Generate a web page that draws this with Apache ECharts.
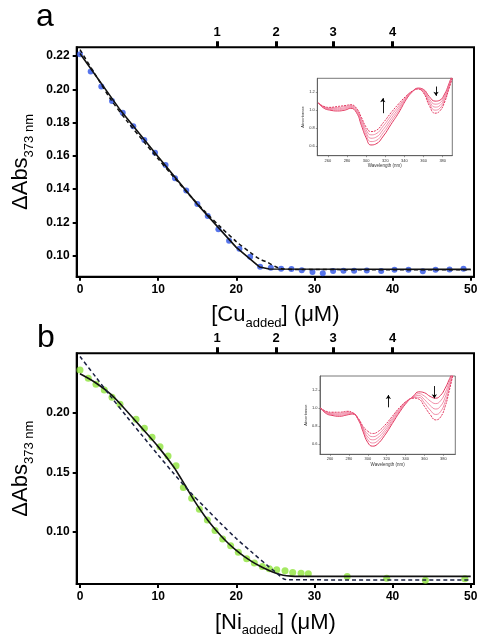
<!DOCTYPE html>
<html><head><meta charset="utf-8">
<script src="https://cdn.jsdelivr.net/npm/echarts@6/dist/echarts.min.js"></script>
<style>html,body{margin:0;padding:0;background:#fff}#c{width:484px;height:642px}</style>
</head><body><div id="c"></div><script>
// ---------- Panel a: Cu titration ----------
const cuX = [0,1.37,2.73,4.10,5.47,6.82,8.23,9.60,10.95,12.16,13.6,15.02,16.35,17.71,19.08,20.40,21.77,23.05,24.42,25.74,27.06,28.38,29.75,31.07,32.39,33.72,35.08,36.70,38.54,40.25,42.04,43.87,45.50,47.29,49.08];
const cuY = [0.2210,0.2106,0.2016,0.1930,0.1859,0.1778,0.1695,0.1619,0.1545,0.1465,0.1392,0.1311,0.1238,0.1159,0.1090,0.1042,0.0994,0.0934,0.0928,0.0922,0.0920,0.0912,0.0902,0.0894,0.0908,0.0910,0.0910,0.0911,0.0908,0.0915,0.0915,0.0907,0.0916,0.0917,0.0922];
const cuFitSolidX = [0,5,10,15,20,23.0,24.2,50];
const cuFitSolidY = [0.2215,0.1885,0.1595,0.1310,0.1050,0.0932,0.0920,0.0918];
const cuFitDashX = [0,2,4,6,8,10,12,14,16,18,20,22,23,24,25,25.8,28,50];
const cuFitDashY = [0.2238,0.2085,0.1935,0.1810,0.1695,0.1582,0.1472,0.1365,0.1265,0.1172,0.1085,0.1012,0.0980,0.0960,0.0935,0.0922,0.0917,0.0916];
// ---------- Panel b: Ni titration ----------
const niX = [0,1.06,2.05,3.11,4.10,5.12,7.17,8.24,9.22,10.24,11.27,12.29,13.23,14.29,15.27,16.30,17.28,18.26,19.28,20.26,21.33,22.31,23.34,24.23,25.17,26.24,27.22,28.29,29.22,34.2,39.25,44.2,49.25];
const niY = [0.2358,0.2288,0.2238,0.2190,0.2129,0.2070,0.1945,0.1869,0.1794,0.1715,0.1637,0.1554,0.1372,0.1283,0.1191,0.1101,0.1012,0.0942,0.0884,0.0831,0.0775,0.0739,0.0710,0.0691,0.0683,0.0674,0.0660,0.0655,0.0650,0.0627,0.0612,0.0595,0.0608];
const niFitSolidX = [0,2,4,6,8,10,12,13,14,15,16,17,18,19,20,21,22,23,24,25,26,27,28,50];
const niFitSolidY = [0.2325,0.2250,0.2150,0.2012,0.1865,0.1715,0.1545,0.1440,0.1330,0.1225,0.1130,0.1045,0.0970,0.0903,0.0845,0.0795,0.0752,0.0715,0.0683,0.0656,0.0638,0.0630,0.0628,0.0628];
const niFitDashX = [0,2,4,6,8,10,12,14,16,18,20,22,24,25,26,26.6,50];
const niFitDashY = [0.2470,0.2300,0.2130,0.1965,0.1805,0.1645,0.1490,0.1340,0.1205,0.1072,0.0945,0.0830,0.0718,0.0665,0.0610,0.0599,0.0598];
// ---------- shared axes ----------
const mainTicks = [0,10,20,30,40,50];
const eqPos = [17.55,25.1,32.4,40.0];
const eqLabels = ['1','2','3','4'];
const yTicksA = [0.10,0.12,0.14,0.16,0.18,0.20,0.22];
const yTicksB = [0.10,0.15,0.20];
// ---------- insets: absorbance spectra ----------
const specWl = [250,256,262,270,278,284,290,295,300,305,310,318,326,334,342,348,354,360,366,372,377,382,386,390];
const specCu0 = [1.08,1.02,1.00,0.99,1.00,1.02,0.97,0.83,0.69,0.61,0.62,0.71,0.84,0.97,1.12,1.20,1.245,1.23,1.15,1.10,1.11,1.18,1.28,1.40];
const specCu1 = [1.08,1.025,1.007,1.003,1.013,1.03,0.982,0.853,0.72,0.648,0.657,0.748,0.873,0.995,1.13,1.203,1.243,1.22,1.125,1.066,1.08,1.158,1.265,1.39];
const specCu2 = [1.08,1.03,1.015,1.015,1.025,1.04,0.995,0.875,0.75,0.685,0.695,0.785,0.905,1.02,1.14,1.205,1.24,1.21,1.10,1.033,1.05,1.135,1.25,1.38];
const specCu3 = [1.08,1.035,1.022,1.028,1.038,1.05,1.008,0.898,0.78,0.723,0.733,0.823,0.938,1.045,1.15,1.208,1.238,1.20,1.075,0.999,1.02,1.11,1.235,1.37];
const specCu4 = [1.08,1.04,1.03,1.04,1.05,1.06,1.02,0.92,0.81,0.76,0.77,0.86,0.97,1.07,1.16,1.21,1.235,1.19,1.05,0.965,0.99,1.09,1.22,1.36];
const specNi0 = [1.00,0.94,0.92,0.91,0.925,0.935,0.87,0.74,0.62,0.58,0.60,0.70,0.83,0.96,1.07,1.13,1.18,1.17,1.13,1.11,1.14,1.22,1.31,1.40];
const specNi1 = [1.00,0.946,0.929,0.921,0.935,0.939,0.874,0.755,0.651,0.615,0.634,0.728,0.85,0.973,1.074,1.125,1.16,1.133,1.08,1.05,1.08,1.17,1.28,1.39];
const specNi2 = [1.00,0.952,0.937,0.932,0.945,0.942,0.877,0.77,0.682,0.65,0.668,0.755,0.87,0.985,1.078,1.12,1.14,1.095,1.03,0.99,1.02,1.12,1.245,1.38];
const specNi3 = [1.00,0.958,0.946,0.944,0.955,0.946,0.881,0.785,0.713,0.685,0.701,0.783,0.89,0.998,1.081,1.115,1.12,1.058,0.98,0.93,0.96,1.07,1.21,1.37];
const specNi4 = [1.00,0.965,0.955,0.955,0.965,0.95,0.885,0.80,0.745,0.72,0.735,0.81,0.91,1.01,1.085,1.11,1.10,1.02,0.93,0.87,0.90,1.02,1.18,1.36];
const insetXTicks = [260,280,300,320,340,360,380];
const insetYTicks = [0.6,0.8,1.0,1.2];
const arrowsCu = [[317.4,0.965,317.4,1.133],[373,1.263,373,1.159]];
const arrowsNi = [[321.8,1.009,321.8,1.145],[370.5,1.244,370.5,1.108]];

const zip = (xs, ys) => xs.map((x, i) => [x, ys[i]]);
const FONT = 'Liberation Sans, Arial, sans-serif';

function mainXAxis(grid, nameMain) {
  return {
    type: 'value', gridIndex: grid, position: 'bottom', min: -0.42, max: 50.42,
    axisLine: {show: true, onZero: false, lineStyle: {color: '#000', width: 2}},
    axisTick: {show: true, customValues: mainTicks, length: 4, lineStyle: {color: '#000', width: 2}},
    axisLabel: {customValues: mainTicks, margin: 7, color: '#000', fontWeight: 'bold', fontSize: 12, fontFamily: FONT},
    splitLine: {show: false},
    name: '{m|[' + nameMain + '}{s|added}{m|] (μM)}',
    nameLocation: 'middle', nameGap: 24,
    nameTextStyle: {rich: {
      m: {fontSize: 22, color: '#000', fontFamily: FONT},
      s: {fontSize: 13, color: '#000', fontFamily: FONT, padding: [16, 0, 0, 0]}
    }}
  };
}
function topXAxis(grid) {
  return {
    type: 'value', gridIndex: grid, position: 'top', min: -0.42, max: 50.42,
    axisLine: {show: false},
    axisTick: {show: true, customValues: eqPos, length: 6, lineStyle: {color: '#000', width: 3}},
    axisLabel: {customValues: eqPos, margin: 8, color: '#000', fontWeight: 'bold', fontSize: 13, fontFamily: FONT,
      formatter: v => { const i = eqPos.findIndex(p => Math.abs(p - v) < 1e-6); return i >= 0 ? eqLabels[i] : ''; }},
    splitLine: {show: false}
  };
}
function mainYAxis(grid, min, max, ticks) {
  return {
    type: 'value', gridIndex: grid, min: min, max: max,
    axisLine: {show: true, onZero: false, lineStyle: {color: '#000', width: 2}},
    axisTick: {show: true, customValues: ticks, length: 4, lineStyle: {color: '#000', width: 2}},
    axisLabel: {customValues: ticks, margin: 7, color: '#000', fontWeight: 'bold', fontSize: 12, fontFamily: FONT,
      formatter: v => v.toFixed(2)},
    splitLine: {show: false},
    name: '{m|ΔAbs}{s|373 nm}', nameLocation: 'middle', nameGap: 38, nameRotate: 90,
    nameTextStyle: {rich: {
      m: {fontSize: 22, color: '#000', fontFamily: FONT},
      s: {fontSize: 13, color: '#000', fontFamily: FONT, padding: [16, 0, 0, 0]}
    }}
  };
}
function insetXAxis(grid, min, max) {
  return {
    type: 'value', gridIndex: grid, min: min, max: max,
    axisLine: {show: true, onZero: false, lineStyle: {color: '#555', width: 0.8}},
    axisTick: {show: true, customValues: insetXTicks, length: 1.5, lineStyle: {color: '#555', width: 0.6}},
    axisLabel: {customValues: insetXTicks, margin: 3, color: '#333', fontSize: 4, fontFamily: FONT},
    splitLine: {show: false},
    name: 'Wavelength (nm)', nameLocation: 'middle', nameGap: 8,
    nameTextStyle: {fontSize: 4.5, color: '#333', fontFamily: FONT}
  };
}
function insetYAxis(grid) {
  return {
    type: 'value', gridIndex: grid, min: 0.49, max: 1.355,
    axisLine: {show: true, onZero: false, lineStyle: {color: '#555', width: 0.8}},
    axisTick: {show: true, customValues: insetYTicks, length: 1.5, lineStyle: {color: '#555', width: 0.6}},
    axisLabel: {customValues: insetYTicks, margin: 2.5, color: '#333', fontSize: 4, fontFamily: FONT,
      formatter: v => v.toFixed(1)},
    splitLine: {show: false},
    name: 'Absorbance', nameLocation: 'middle', nameGap: 11, nameRotate: 90,
    nameTextStyle: {fontSize: 4, color: '#333', fontFamily: FONT}
  };
}
function specSeries(xi, yi, arr, idx, n, arrows) {
  const dark = idx === 0 || idx === n - 1;
  const s = {
    type: 'line', xAxisIndex: xi, yAxisIndex: yi, data: zip(specWl, arr), smooth: 0.5,
    showSymbol: false, symbol: 'none', silent: true,
    lineStyle: {color: dark ? '#e2355d' : '#ee7394', width: dark ? 1.0 : 0.8, type: idx === n - 1 ? [2, 1] : 'solid'}
  };
  if (arrows) {
    s.markLine = {symbol: ['none', 'arrow'], symbolSize: 4, silent: true, label: {show: false},
      lineStyle: {color: '#000', width: 0.9, type: 'solid'},
      data: arrows.map(a => [{coord: [a[0], a[1]]}, {coord: [a[2], a[3]]}])};
  }
  return s;
}

const chart = echarts.init(document.getElementById('c'), null, {renderer: 'canvas'});
const cuSpecs = [specCu0, specCu1, specCu2, specCu3, specCu4];
const niSpecs = [specNi0, specNi1, specNi2, specNi3, specNi4];
const series = [
  {type: 'scatter', xAxisIndex: 0, yAxisIndex: 0, data: zip(cuX, cuY), symbolSize: 6, itemStyle: {color: '#2d52e6'}},
  {type: 'line', xAxisIndex: 0, yAxisIndex: 0, data: zip(cuFitSolidX, cuFitSolidY), symbol: 'none', lineStyle: {color: '#111', width: 1.6}},
  {type: 'line', xAxisIndex: 0, yAxisIndex: 0, data: zip(cuFitDashX, cuFitDashY), symbol: 'none', smooth: 0.3, lineStyle: {color: '#111', width: 1.5, type: [4, 3]}},
  {type: 'scatter', xAxisIndex: 2, yAxisIndex: 1, data: zip(niX, niY), symbolSize: 7, itemStyle: {color: '#8fe33c'}},
  {type: 'line', xAxisIndex: 2, yAxisIndex: 1, data: zip(niFitSolidX, niFitSolidY), symbol: 'none', smooth: 0.3, lineStyle: {color: '#111', width: 1.6}},
  {type: 'line', xAxisIndex: 2, yAxisIndex: 1, data: zip(niFitDashX, niFitDashY), symbol: 'none', smooth: 0.3, lineStyle: {color: '#1a2040', width: 1.5, type: [4, 3]}}
];
cuSpecs.forEach((a, i) => series.push(specSeries(4, 2, a, i, cuSpecs.length, i === 0 ? arrowsCu : null)));
niSpecs.forEach((a, i) => series.push(specSeries(5, 3, a, i, niSpecs.length, i === 0 ? arrowsNi : null)));

chart.setOption({
  animation: false,
  backgroundColor: '#fff',
  grid: [
    {left: 76.7, top: 47.3, width: 397.3, height: 229.4, show: true, borderColor: '#000', borderWidth: 2, backgroundColor: 'transparent'},
    {left: 76.7, top: 353.3, width: 397.3, height: 230.7, show: true, borderColor: '#000', borderWidth: 2, backgroundColor: 'transparent'},
    {left: 317.3, top: 78.3, width: 135, height: 77.4, show: true, borderColor: '#555', borderWidth: 0.8, backgroundColor: '#fff'},
    {left: 320, top: 376, width: 135.3, height: 78.3, show: true, borderColor: '#555', borderWidth: 0.8, backgroundColor: '#fff'}
  ],
  xAxis: [mainXAxis(0, 'Cu'), topXAxis(0), mainXAxis(1, 'Ni'), topXAxis(1), insetXAxis(2, 249, 390), insetXAxis(3, 249.4, 392.7)],
  yAxis: [mainYAxis(0, 0.0874, 0.2252, yTicksA), mainYAxis(1, 0.0564, 0.2497, yTicksB), insetYAxis(2), insetYAxis(3)],
  series: series,
  graphic: [
    {type: 'text', left: 36, top: 1, style: {text: 'a', fontSize: 32, fontFamily: FONT, fill: '#000'}},
    {type: 'text', left: 37, top: 322, style: {text: 'b', fontSize: 32, fontFamily: FONT, fill: '#000'}}
  ]
});
</script></body></html>
